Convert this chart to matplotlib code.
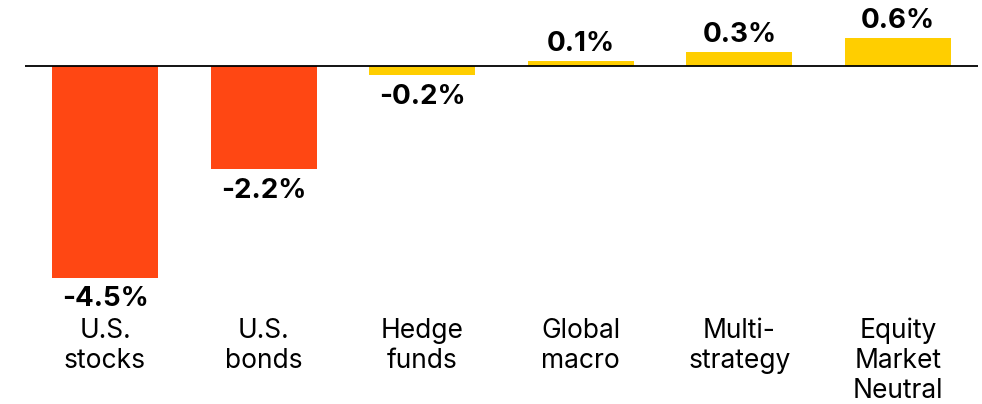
import matplotlib
matplotlib.use("Agg")
from matplotlib import pyplot as plt
import matplotlib.transforms as mtransforms

plt.rcParams['font.family'] = ['Inter', 'DejaVu Sans']

categories = ["U.S.\nstocks", "U.S.\nbonds", "Hedge\nfunds", "Global\nmacro",
              "Multi-\nstrategy", "Equity\nMarket\nNeutral"]
values = [-4.5, -2.2, -0.2, 0.1, 0.3, 0.6]
labels = ["-4.5%", "-2.2%", "-0.2%", "0.1%", "0.3%", "0.6%"]

RED = "#FF4713"
YELLOW = "#FFCE00"
colors = [RED, RED, YELLOW, YELLOW, YELLOW, YELLOW]

fig = plt.figure(figsize=(9.82, 4.04), dpi=100)
# axes spans the full height; zero line sits at y=66px
ax = fig.add_axes([25 / 982, 0, 953 / 982, 1])

x = list(range(len(values)))
ax.bar(x, values, width=0.67, color=colors, zorder=2)
ax.axhline(0, color="black", lw=1.3, zorder=3)

ppu = 47.0  # pixels per unit
ax.set_ylim(-(404 - 66) / ppu, 66 / ppu)
ax.set_xlim(-0.505, 5.505)
ax.axis("off")

for xi, v, lab in zip(x, values, labels):
    if v < 0:
        ax.annotate(lab, (xi, v), xytext=(0, -6), textcoords="offset points",
                    ha="center", va="top", fontsize=20, fontweight="bold")
    else:
        ax.annotate(lab, (xi, v), xytext=(0, 3), textcoords="offset points",
                    ha="center", va="bottom", fontsize=20, fontweight="bold")

trans = mtransforms.blended_transform_factory(ax.transData, ax.transAxes)
for xi, cat in zip(x, categories):
    ax.text(xi, 1 - 318 / 404, cat, transform=trans, ha="center", va="top",
            fontsize=19, linespacing=1.2)

fig.savefig("out.png", dpi=100)
